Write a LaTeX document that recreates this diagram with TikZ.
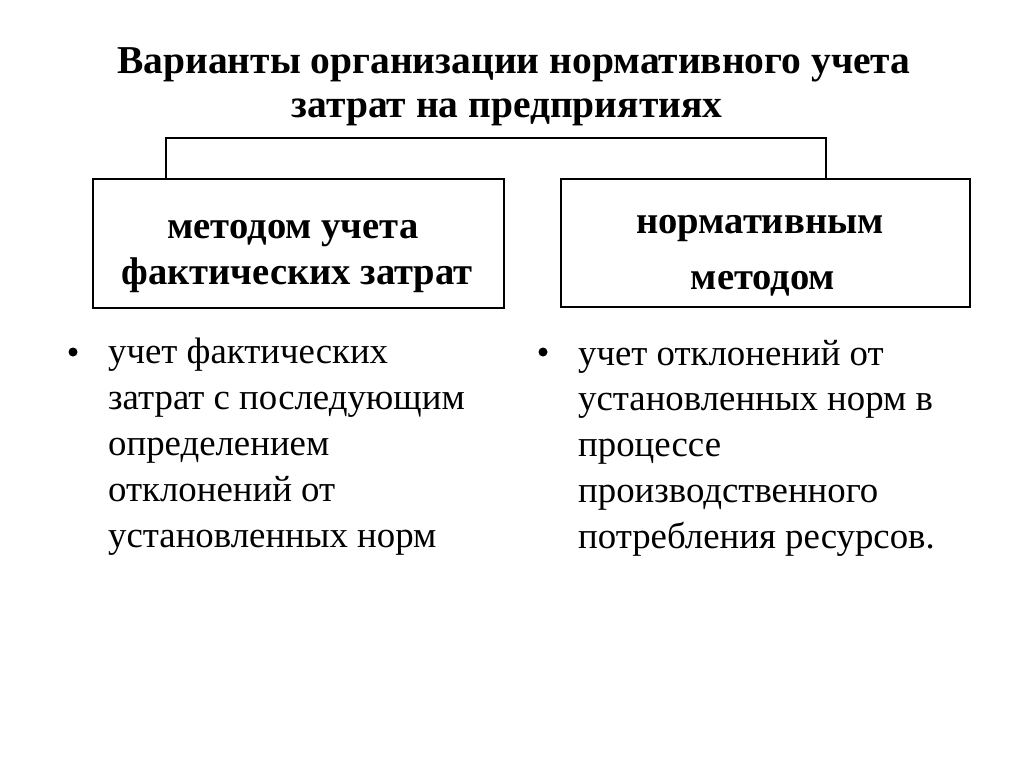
\documentclass[tikz,border=0pt]{standalone}
\usepackage{fontspec}
\setmainfont{Liberation Serif}
\begin{document}
\begin{tikzpicture}[x=1pt,y=-1pt,
  ttl/.style={font=\fontsize{39.5}{42}\selectfont\bfseries, inner sep=0pt, anchor=base},
  boxtxt/.style={font=\fontsize{38.6}{42}\selectfont\bfseries, inner sep=0pt, anchor=base},
  frame/.style={draw, line width=1.2pt},
  conn/.style={draw, line width=1.2pt},
  btxt/.style={font=\fontsize{36.8}{46}\selectfont, inner sep=0pt, anchor=base west},
  bul/.style={circle, fill=black, inner sep=0pt, minimum size=9pt}]
\useasboundingbox[fill=white] (0,0) rectangle (1024,768);
% title
\node[ttl] (t1) at (514,73) {Варианты организации нормативного учета};
\node[ttl] (t2) at (507,117) {затрат на предприятиях};
% boxes
\node[frame, minimum width=411pt, minimum height=129pt, inner sep=0pt] (lb) at (298.5,243.5) {};
\node[frame, minimum width=409pt, minimum height=128pt, inner sep=0pt] (rb) at (765.5,243) {};
\node[boxtxt] (l1) at (293,238) {методом учета};
\node[boxtxt] (l2) at (297,284) {фактических затрат};
\node[boxtxt] (r1) at (760,233) {нормативным};
\node[boxtxt] (r2) at (763,289) {методом};
% bracket
\coordinate (jl) at (166,138);
\coordinate (jr) at (826,138);
\draw[conn] (lb.north -| jl) -- (jl) -- (jr) -- (rb.north -| jr);
% left bullets
\node[bul] (lbul) at (73,352) {};
\node[btxt] (a1) at (108,363) {учет фактических};
\node[btxt] (a2) at (108,409) {затрат с последующим};
\node[btxt] (a3) at (108,455) {определением};
\node[btxt] (a4) at (108,501) {отклонений от};
\node[btxt] (a5) at (108,547) {установленных норм};
% right bullets
\node[bul] (rbul) at (543,352) {};
\node[btxt] (b1) at (578,365) {учет отклонений от};
\node[btxt] (b2) at (578,410) {установленных норм в};
\node[btxt] (b3) at (578,456) {процессе};
\node[btxt] (b4) at (578,502) {производственного};
\node[btxt] (b5) at (578,548) {потребления ресурсов.};
\end{tikzpicture}
\end{document}
